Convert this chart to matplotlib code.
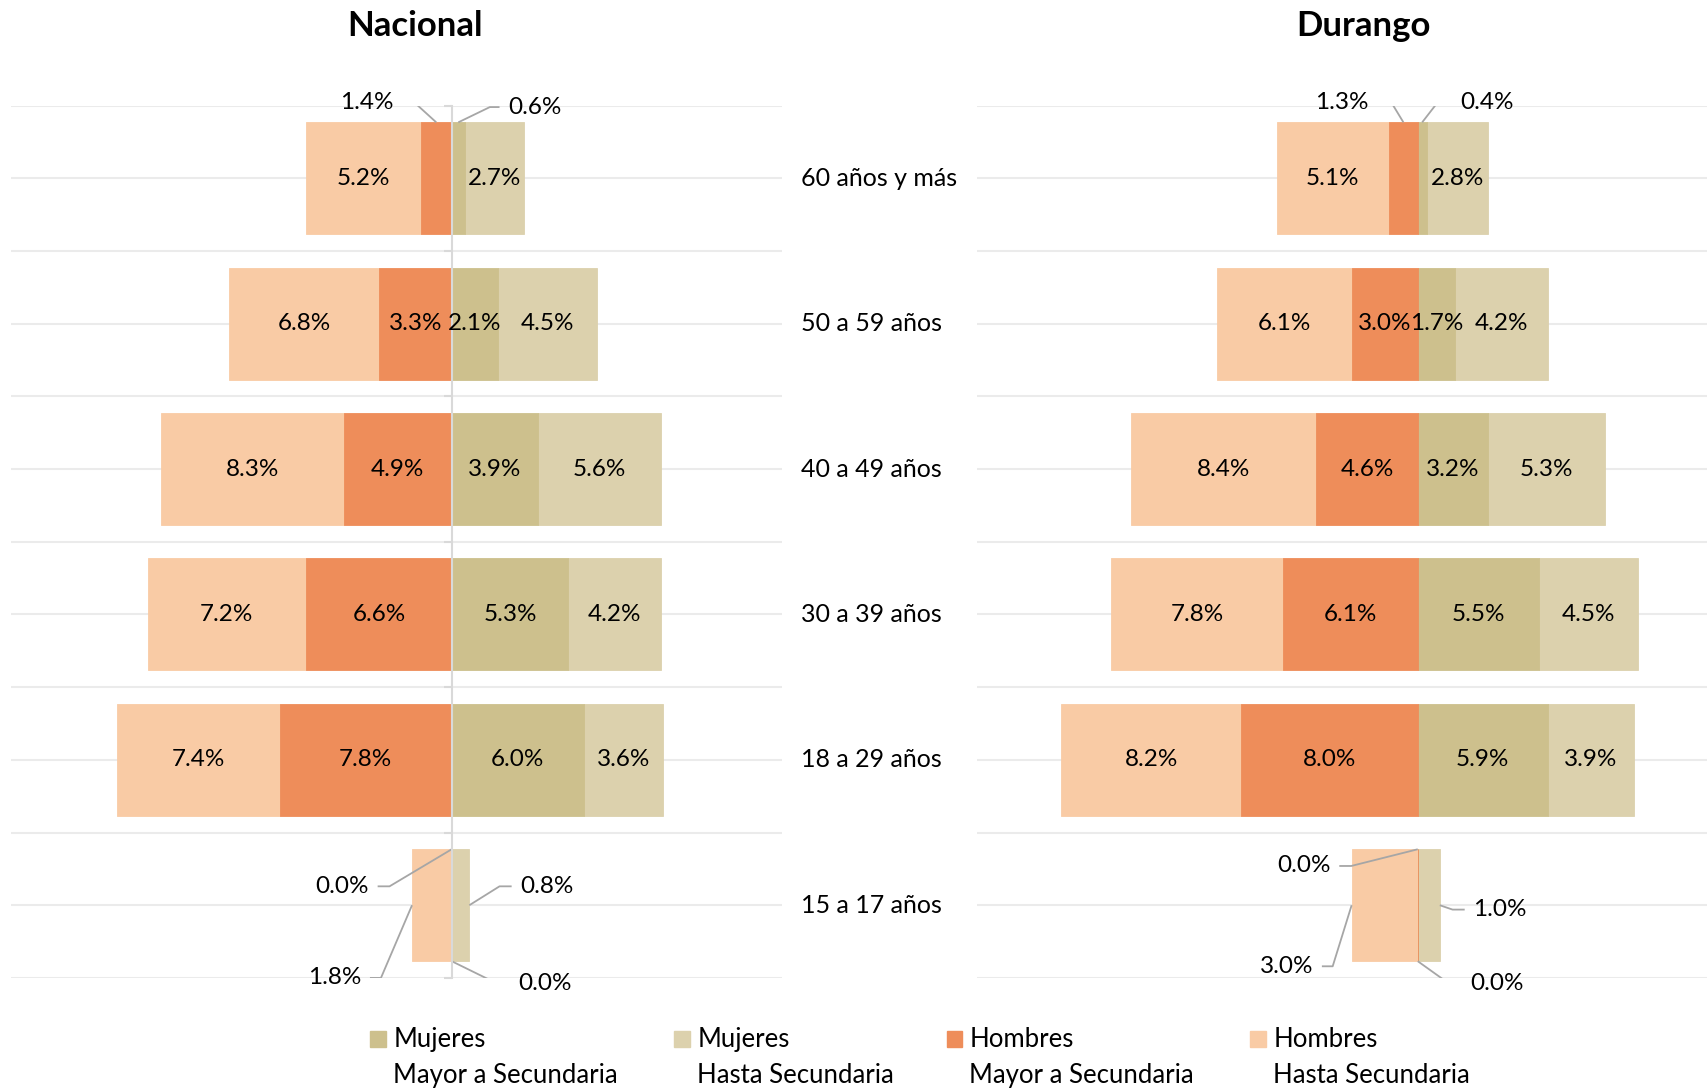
import matplotlib
matplotlib.use("Agg")
import matplotlib.pyplot as plt
import numpy as np
from matplotlib.patches import Rectangle
from matplotlib.transforms import blended_transform_factory

plt.rcParams["font.family"] = ["Lato", "DejaVu Sans"]

# rows from top to bottom
age_groups = ["60 años y más", "50 a 59 años", "40 a 49 años", "30 a 39 años", "18 a 29 años", "15 a 17 años"]

nac_hombres_hasta = [5.2, 6.8, 8.3, 7.2, 7.4, 1.8]
nac_hombres_mayor = [1.4, 3.3, 4.9, 6.6, 7.8, 0.0]
nac_mujeres_mayor = [0.6, 2.1, 3.9, 5.3, 6.0, 0.0]
nac_mujeres_hasta = [2.7, 4.5, 5.6, 4.2, 3.6, 0.8]

dgo_hombres_hasta = [5.1, 6.1, 8.4, 7.8, 8.2, 3.0]
dgo_hombres_mayor = [1.3, 3.0, 4.6, 6.1, 8.0, 0.0]
dgo_mujeres_mayor = [0.4, 1.7, 3.2, 5.5, 5.9, 0.0]
dgo_mujeres_hasta = [2.8, 4.2, 5.3, 4.5, 3.9, 1.0]

legend_top = ["Mujeres", "Mujeres", "Hombres", "Hombres"]
legend_bottom = ["Mayor a Secundaria", "Hasta Secundaria", "Mayor a Secundaria", "Hasta Secundaria"]

COLORS = {"mm": "#cdc08d", "mh": "#dcd1ad", "hm": "#ee8d5a", "hh": "#f9cba5"}
LEG_COLORS = [COLORS["mm"], COLORS["mh"], COLORS["hm"], COLORS["hh"]]
GRID = "#ebebeb"
LEADER = "#a6a6a6"
BAR_H = 0.77
FS = 17.5

# leader-line labels: (series, row, anchor, elbow_x, end_x, dy)
nac_leaders = [
    ("hm", 0, "top", -1.68, -2.22, 0.52),
    ("mm", 0, "top", 1.73, 2.17, 0.49),
    ("hm", 5, "top", -2.82, -3.36, 0.13),
    ("hh", 5, "outer", -3.21, -3.71, -0.50),
    ("mh", 5, "outer", 2.17, 2.72, 0.13),
    ("mm", 5, "bottom", 2.08, 2.62, -0.54),
]
dgo_leaders = [
    ("hm", 0, "top", -1.19, -1.83, 0.52),
    ("mm", 0, "top", 0.89, 1.53, 0.52),
    ("hm", 5, "top", -3.02, -3.56, 0.27),
    ("hh", 5, "outer", -3.86, -4.35, -0.42),
    ("mh", 5, "outer", 1.58, 2.13, -0.03),
    ("mm", 5, "bottom", 1.43, 1.98, -0.54),
]


def draw_panel(ax, hh, hm, mm, mh, leaders, xmax, show_axis):
    n = len(age_groups)
    y = np.arange(n)[::-1].astype(float)
    hh, hm, mm, mh = map(np.asarray, (hh, hm, mm, mh))

    for g in np.arange(-0.5, n, 0.5):
        ax.axhline(g, color=GRID, lw=1.5, zorder=0)

    segs = {
        "hh": (-(hm + hh), hh),
        "mh": (mm, mh),
        "mm": (np.zeros(n), mm),
        "hm": (-hm, hm),
    }
    for key in ["hh", "mh", "mm", "hm"]:
        left, width = segs[key]
        ax.barh(y, width, left=left, height=BAR_H, color=COLORS[key],
                edgecolor=COLORS[key], linewidth=0.6, zorder=2)

    vals = {"hh": hh, "hm": hm, "mm": mm, "mh": mh}
    leader_keys = {(s, r) for s, r, *_ in leaders}
    for key in ["hh", "hm", "mm", "mh"]:
        left, width = segs[key]
        for r in range(n):
            if (key, r) in leader_keys:
                continue
            ax.text(left[r] + width[r] / 2, y[r], f"{vals[key][r]:.1f}%",
                    ha="center", va="center", fontsize=FS, zorder=4)

    for key, r, anchor, elbow_x, end_x, dy in leaders:
        left, width = segs[key]
        if anchor == "top":
            ax_, ay = left[r] + width[r] / 2, y[r] + BAR_H / 2
        elif anchor == "bottom":
            ax_, ay = left[r] + width[r] / 2, y[r] - BAR_H / 2
        else:
            ax_ = left[r] if key in ("hh", "hm") else left[r] + width[r]
            ay = y[r]
        ty = y[r] + dy
        ax.plot([ax_, elbow_x, end_x], [ay, ty, ty], color=LEADER, lw=1.3,
                zorder=3, solid_capstyle="butt")
        side = "right" if end_x < 0 else "left"
        tx = end_x - 0.4 if end_x < 0 else end_x + 0.4
        ax.text(tx, ty, f"{vals[key][r]:.1f}%", ha=side, va="center",
                fontsize=FS, zorder=4)

    ax.set_xlim(-20, xmax)
    ax.set_ylim(-0.5, n - 0.5)
    ax.set_xticks([])
    for sp in ["top", "right", "bottom"]:
        ax.spines[sp].set_visible(False)
    if show_axis:
        ax.spines["left"].set_position(("data", 0))
        ax.spines["left"].set_color("#d9d9d9")
        ax.spines["left"].set_linewidth(1.5)
        ax.spines["left"].set_zorder(3)
        ax.set_yticks(np.arange(-0.5, n, 1.0))
        ax.tick_params(axis="y", direction="out", length=6, width=1.5,
                       color="#d9d9d9", labelleft=False)
    else:
        ax.spines["left"].set_visible(False)
        ax.set_yticks([])
    return y


fig = plt.figure(figsize=(17.08, 10.89), dpi=100)
ax_l = fig.add_axes([0.0064, 0.102, 0.4516, 0.801])
ax_r = fig.add_axes([0.572, 0.102, 0.428, 0.801])

y = draw_panel(ax_l, nac_hombres_hasta, nac_hombres_mayor, nac_mujeres_mayor,
               nac_mujeres_hasta, nac_leaders, 15, True)
draw_panel(ax_r, dgo_hombres_hasta, dgo_hombres_mayor, dgo_mujeres_mayor,
           dgo_mujeres_hasta, dgo_leaders, 13.17, False)

fig.text(0.243, 0.976, "Nacional", ha="center", va="center", fontsize=25, fontweight="bold")
fig.text(0.798, 0.976, "Durango", ha="center", va="center", fontsize=25, fontweight="bold")

trans = blended_transform_factory(fig.transFigure, ax_l.transData)
for yy, label in zip(y, age_groups):
    fig.text(0.469, yy, label, transform=trans, ha="left", va="center", fontsize=18)

# legend
leg_x = [340, 619, 869, 1148]
for lx, color, top, bottom in zip(leg_x, LEG_COLORS, legend_top, legend_bottom):
    fig.add_artist(Rectangle((lx / 1568, 0.039), 14 / 1568, 0.014,
                             transform=fig.transFigure, color=color))
    fig.text((lx + 21) / 1568, 0.045, top, ha="left", va="center", fontsize=18.5)
    fig.text((lx + 21) / 1568, 0.012, bottom, ha="left", va="center", fontsize=18.5)

fig.savefig("out.png", dpi=100)
